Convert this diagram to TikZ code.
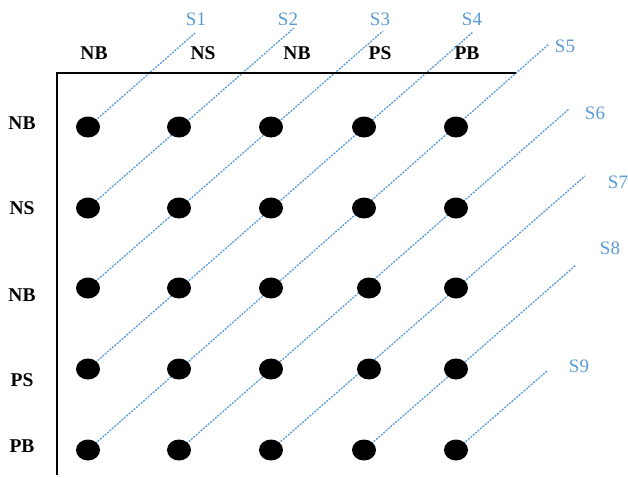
\documentclass[tikz,border=0pt]{standalone}
\usepackage{fontspec}
\setmainfont{Liberation Serif}
\usetikzlibrary{shapes.geometric,backgrounds}
\definecolor{sblue}{HTML}{5B9BD5}
\begin{document}
\begin{tikzpicture}[x=1pt,y=-1pt,
  dot/.style={ellipse,fill=black,minimum width=24pt,minimum height=21pt,inner sep=0pt},
  axlabel/.style={font=\fontsize{19.5}{22}\selectfont\bfseries,inner sep=0pt},
  slabel/.style={font=\fontsize{19}{22}\selectfont,text=sblue,inner sep=0pt},
  sline/.style={draw=sblue,line width=1.3pt,dash pattern=on 2pt off 1.2pt},
  axis/.style={draw=black,line width=1.5pt}]
\useasboundingbox (0,0) rectangle (628,477);
% axes
\coordinate (o) at (57,73);
\coordinate (xe) at (516,73);
\coordinate (ye) at (57,475);
\draw[axis] (xe) -- (o) -- (ye);
% column labels
\node[axlabel] (c1) at (94,53) {NB};
\node[axlabel] (c2) at (203,53) {NS};
\node[axlabel] (c3) at (297,53) {NB};
\node[axlabel] (c4) at (380,53) {PS};
\node[axlabel] (c5) at (467,53) {PB};
% row labels
\node[axlabel] (r1) at (22,123) {NB};
\node[axlabel] (r2) at (22,208) {NS};
\node[axlabel] (r3) at (22,295) {NB};
\node[axlabel] (r4) at (22,380) {PS};
\node[axlabel] (r5) at (22,446) {PB};
% dots
\node[dot] (d11) at (88,127) {};
\node[dot] (d12) at (179,127) {};
\node[dot] (d13) at (271,127) {};
\node[dot] (d14) at (364,127) {};
\node[dot] (d15) at (456,127) {};
\node[dot] (d21) at (88,208) {};
\node[dot] (d22) at (179,208) {};
\node[dot] (d23) at (271,208) {};
\node[dot] (d24) at (364,208) {};
\node[dot] (d25) at (456,208) {};
\node[dot] (d31) at (88,288) {};
\node[dot] (d32) at (179,288) {};
\node[dot] (d33) at (271,288) {};
\node[dot] (d34) at (369,288) {};
\node[dot] (d35) at (456,288) {};
\node[dot] (d41) at (88,369) {};
\node[dot] (d42) at (179,369) {};
\node[dot] (d43) at (271,369) {};
\node[dot] (d44) at (369,369) {};
\node[dot] (d45) at (456,369) {};
\node[dot] (d51) at (88,450) {};
\node[dot] (d52) at (179,450) {};
\node[dot] (d53) at (271,450) {};
\node[dot] (d54) at (364,450) {};
\node[dot] (d55) at (456,450) {};
% S labels and line ends
\coordinate (e1) at (195,33);
\coordinate (e2) at (294,28);
\coordinate (e3) at (383,31);
\coordinate (e4) at (473,32);
\coordinate (e5) at (549,44);
\coordinate (e6) at (569,109);
\coordinate (e7) at (585,176);
\coordinate (e8) at (576,265);
\coordinate (e9) at (547,371);
\node[slabel] (s1) at (196,19) {S1};
\node[slabel] (s2) at (288,19) {S2};
\node[slabel] (s3) at (380,19) {S3};
\node[slabel] (s4) at (472,19) {S4};
\node[slabel] (s5) at (565,46) {S5};
\node[slabel] (s6) at (595,113) {S6};
\node[slabel] (s7) at (618,182) {S7};
\node[slabel] (s8) at (610,248) {S8};
\node[slabel] (s9) at (579,366) {S9};
\begin{pgfonlayer}{background}
\draw[sline] (d11.center) -- (e1);
\draw[sline] (d21.center) -- (e2);
\draw[sline] (d31.center) -- (e3);
\draw[sline] (d41.center) -- (e4);
\draw[sline] (d51.center) -- (e5);
\draw[sline] (d52.center) -- (e6);
\draw[sline] (d53.center) -- (e7);
\draw[sline] (d54.center) -- (e8);
\draw[sline] (d55.center) -- (e9);
\end{pgfonlayer}
\end{tikzpicture}
\end{document}
